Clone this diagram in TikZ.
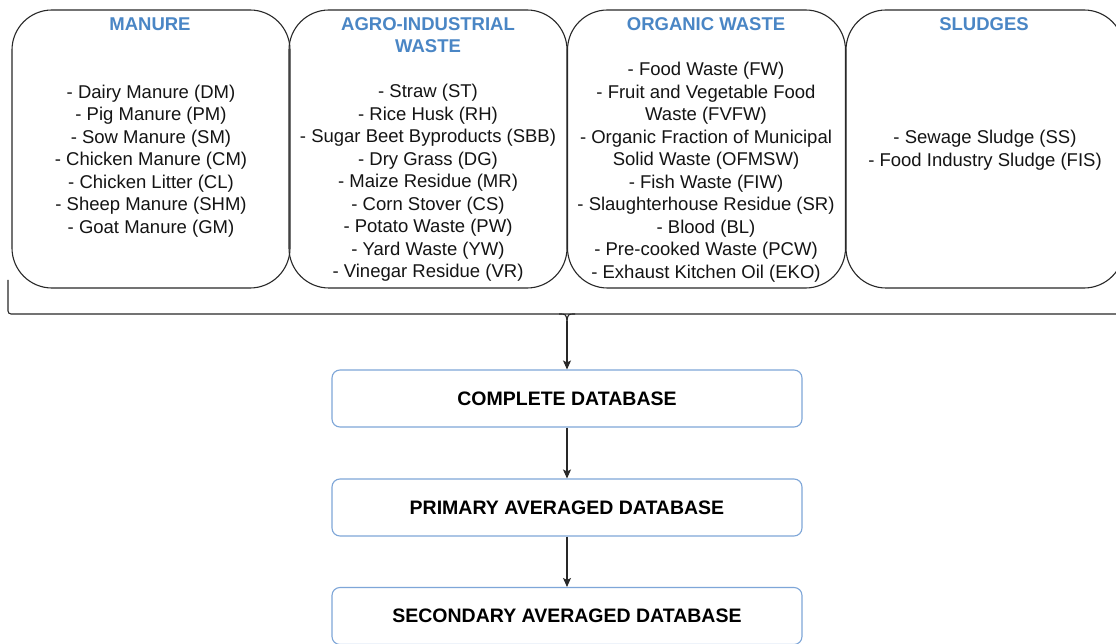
\documentclass[tikz,border=0pt]{standalone}
\usepackage{fontspec}
\setmainfont{Liberation Sans}
\usepackage{tikz}
\usetikzlibrary{arrows,arrows.meta,shapes}
\usetikzlibrary{positioning}
\definecolor{titleblue}{RGB}{74,134,197}
\definecolor{dbblue}{RGB}{126,166,216}
\definecolor{edge}{RGB}{40,40,40}
\tikzstyle{group} = [rectangle, rounded corners=40pt, minimum width=278pt, minimum height=278pt, inner sep=0pt, draw=edge, line width=1.1pt]
\tikzstyle{grouptitle} = [font=\fontsize{18.5}{22.5}\selectfont\bfseries, text=titleblue, align=center, inner sep=0pt]
\tikzstyle{list} = [font=\fontsize{18.5}{22.5}\selectfont, text=black!92, align=center, inner sep=0pt]
\tikzstyle{db} = [rectangle, rounded corners=8pt, minimum width=470pt, minimum height=57pt, draw=dbblue, line width=1.1pt, font=\fontsize{19.5}{23}\selectfont\bfseries, text=black]
\tikzstyle{arrow} = [line width=1.1pt,-{Stealth[length=9pt,width=8pt,inset=2pt]}, draw=edge]

\begin{document}
\begin{tikzpicture}[x=1pt,y=-1pt]
						\clip (0,0) rectangle (1116,644);
						\fill[white] (0,0) rectangle (1116,644);
						% source groups
						\node [group] (manure) at (151,149) {};
						\node [group] (agro) at (428,149) {};
						\node [group] (organic) at (706.5,149) {};
						\node [group] (sludge) at (985,149) {};
						\node [grouptitle] (manuretitle) at (150,24) {MANURE};
						\node [grouptitle] (agrotitle) at (428,35) {AGRO-INDUSTRIAL\\WASTE};
						\node [grouptitle] (organictitle) at (706,24) {ORGANIC WASTE};
						\node [grouptitle] (sludgetitle) at (984,24) {SLUDGES};
						\node [list] (manurelist) at (151,161) {- Dairy Manure (DM)\\- Pig Manure (PM)\\- Sow Manure (SM)\\- Chicken Manure (CM)\\- Chicken Litter (CL)\\- Sheep Manure (SHM)\\- Goat Manure (GM)};
						\node [list] (agrolist) at (428,183) {- Straw (ST)\\- Rice Husk (RH)\\- Sugar Beet Byproducts (SBB)\\- Dry Grass (DG)\\- Maize Residue (MR)\\- Corn Stover (CS)\\- Potato Waste (PW)\\- Yard Waste (YW)\\- Vinegar Residue (VR)};
						\node [list] (organiclist) at (706,172) {- Food Waste (FW)\\- Fruit and Vegetable Food\\Waste (FVFW)\\- Organic Fraction of Municipal\\Solid Waste (OFMSW)\\- Fish Waste (FIW)\\- Slaughterhouse Residue (SR)\\- Blood (BL)\\- Pre-cooked Waste (PCW)\\- Exhaust Kitchen Oil (EKO)};
						\node [list] (sludgelist) at (985,150) {- Sewage Sludge (SS)\\- Food Industry Sludge (FIS)};
						% databases
						\node [db] (complete) at (567,398.5) {COMPLETE DATABASE};
						\node [db] (primary) at (567,507.5) {PRIMARY AVERAGED DATABASE};
						\node [db] (secondary) at (567,616) {SECONDARY AVERAGED DATABASE};
						% brace
						\coordinate (tip) at (567,321);
						\draw [draw=edge, line width=1.1pt, rounded corners=3pt] (8,280) |- (1120,314);
						\draw [draw=edge, line width=1.1pt] (559,314) .. controls (566,314) .. (tip);
						\draw [draw=edge, line width=1.1pt] (575,314) .. controls (568,314) .. (tip);
						\draw [arrow] (tip) -- (complete);
						\draw [arrow] (complete) -- (primary);
						\draw [arrow] (primary) -- (secondary);
					\end{tikzpicture}
\end{document}
